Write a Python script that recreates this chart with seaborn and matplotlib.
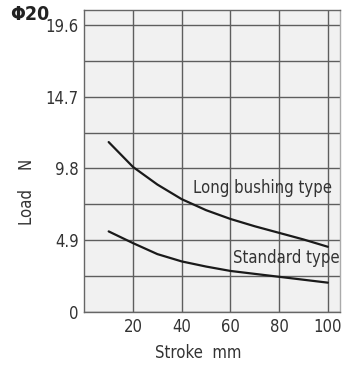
import matplotlib
matplotlib.use("Agg")
import matplotlib.pyplot as plt
import seaborn as sns
import pandas as pd

# Allowable load versus stroke, bore 20
stroke = [10, 20, 30, 40, 50, 60, 70, 80, 90, 100]
long_bushing = [11.6, 9.9, 8.7, 7.7, 6.95, 6.35, 5.85, 5.4, 4.95, 4.45]
standard = [5.5, 4.7, 3.95, 3.45, 3.1, 2.8, 2.6, 2.4, 2.2, 2.0]
series_names = ["Long bushing type", "Standard type"]
y_ticks = [0, 4.9, 9.8, 14.7, 19.6]
y_tick_labels = ["0", "4.9", "9.8", "14.7", "19.6"]
x_ticks = [20, 40, 60, 80, 100]

df = pd.DataFrame({
    "Stroke": stroke * 2,
    "Load": long_bushing + standard,
    "Type": [series_names[0]] * len(stroke) + [series_names[1]] * len(stroke),
})

sns.set_theme(style="white")
plt.rcParams["font.family"] = ["DejaVu Sans"]
plt.rcParams["font.stretch"] = "condensed"

fig = plt.figure(figsize=(3.46, 3.67), dpi=100)
ax = fig.add_axes([0.2437, 0.150, 0.739, 0.824])
ax.set_facecolor("#f1f1f1")

sns.lineplot(data=df, x="Stroke", y="Load", hue="Type", palette=["#1a1a1a", "#1a1a1a"],
             linewidth=1.6, legend=False, ax=ax)

ax.set_xlim(0, 105)
ax.set_ylim(0, 20.65)
ax.set_xticks(x_ticks)
ax.set_yticks(y_ticks)
ax.set_yticklabels(y_tick_labels)
ax.set_yticks([2.45, 7.35, 12.25, 17.15], minor=True)
ax.grid(True, which="both", axis="y", color="#5e5e5e", linewidth=1.0)
ax.grid(True, which="major", axis="x", color="#5e5e5e", linewidth=1.0)
ax.tick_params(axis="both", which="both", length=0, labelsize=12, colors="#333333", pad=4)
ax.set_xlabel("")
ax.set_ylabel("")
for side, sp in ax.spines.items():
    sp.set_color("#666666")
    sp.set_linewidth(1.0)
ax.spines["right"].set_color("#aaaaaa")
ax.set_axisbelow(True)

ax.text(44.6, 8.44, series_names[0], fontsize=12, color="#333333", va="center", ha="left")
ax.text(61.0, 3.68, series_names[1], fontsize=12, color="#333333", va="center", ha="left")

fig.text(27 / 346, 1 - 192 / 367, "Load    N", rotation=90, fontsize=12, color="#333333",
         ha="center", va="center")
fig.text(198 / 346, 1 - 353 / 367, "Stroke  mm", fontsize=12, color="#333333",
         ha="center", va="center")
fig.text(10 / 346, 1 - 15 / 367, "\u03a620", fontsize=14, fontweight="bold", color="#222222",
         ha="left", va="center")

fig.savefig("out.png", dpi=100, facecolor="white")
